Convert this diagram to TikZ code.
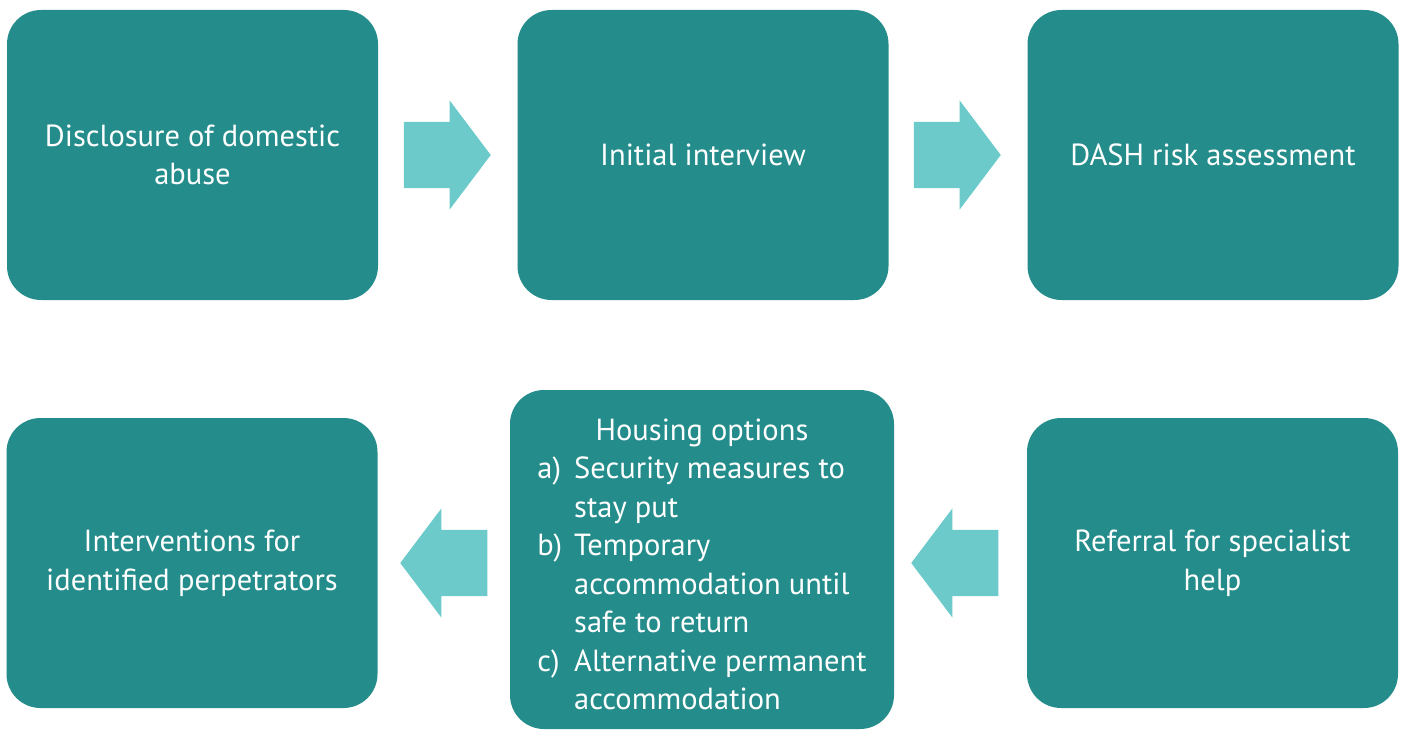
\documentclass[tikz,border=0pt]{standalone}
\usepackage{fontspec}
\setmainfont{PT Sans}
\usepackage{tikz}
\usetikzlibrary{shapes.arrows}
\definecolor{boxteal}{HTML}{248C8B}
\definecolor{arrowteal}{HTML}{6CCACA}

\begin{document}
\begin{tikzpicture}[x=1pt,y=-1pt,
  box/.style={fill=boxteal,rounded corners=34pt,text=white,align=center,
    font=\fontsize{30.5}{38.5}\selectfont,minimum width=371pt,minimum height=290pt,inner sep=0pt},
  fatarrow/.style={fill=arrowteal,single arrow,draw=none,inner sep=0pt,anchor=tip,
    minimum height=87pt,minimum width=109pt,single arrow head extend=21.5pt,
    single arrow tip angle=106,text height=66pt}]
  \useasboundingbox (0,0) rectangle (1402,730);

  \draw (192.5,155) node[box] (disclosure) {Disclosure of domestic\\abuse};
  \draw (703,155) node[box] (interview) {Initial interview};
  \draw (1213,155) node[box] (dash) {DASH risk assessment};

  \draw (192,563) node[box] (perpetrators) {Interventions for\\identified perpetrators};
  \draw (702,559.5) node[box,minimum width=384pt,minimum height=339pt] (housing) {%
    \raisebox{0pt}[\height][\dimexpr\depth-16pt]{%
    \begin{tabular}{@{}l@{\hspace{12pt}}l@{}}
      \multicolumn{2}{c}{Housing options}\\
      a) & Security measures to\\
         & stay put\\
      b) & Temporary\\
         & accommodation until\\
         & safe to return\\
      c) & Alternative permanent\\
         & accommodation
    \end{tabular}}};
  \draw (1212.5,563) node[box] (referral) {Referral for specialist\\help};

  % block arrows between the steps
  \draw (491,155) node[fatarrow] (arrow1) {};
  \draw (1001,155) node[fatarrow] (arrow2) {};
  \draw (400,563) node[fatarrow,shape border rotate=180] (arrow3) {};
  \draw (911,563) node[fatarrow,shape border rotate=180] (arrow4) {};

\end{tikzpicture}
\end{document}
